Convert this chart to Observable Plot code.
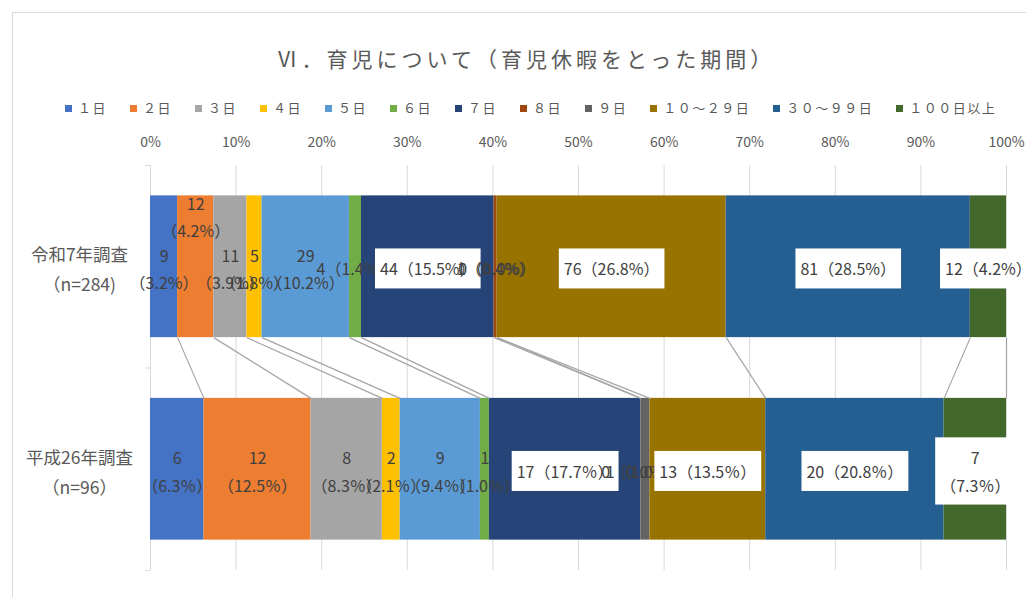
<!DOCTYPE html>
<html><head><meta charset="utf-8">
<script src="https://cdn.jsdelivr.net/npm/d3@7"></script>
<script src="https://cdn.jsdelivr.net/npm/@observablehq/plot@0.6"></script>
<style>
body{margin:0;background:#fff;font-family:"Noto Sans CJK JP",sans-serif;}
#wrap{position:relative;width:1026px;height:597px;overflow:hidden;background:#fff;}
#frame{position:absolute;left:12px;top:12px;width:1100px;height:700px;border:1px solid #d9d9d9;}
#chart{position:absolute;left:0;top:0;}
#title{position:absolute;left:0;width:1052px;top:43px;text-align:center;font-size:21px;letter-spacing:4px;color:#595959;line-height:30px;white-space:nowrap;}
#legend{position:absolute;left:65px;top:99px;display:flex;gap:23px;font-size:13px;color:#595959;letter-spacing:1.5px;line-height:18px;white-space:nowrap;}
.item{display:flex;align-items:center;}
.sw{width:7px;height:7px;margin-right:6px;}
</style></head><body>
<div id="wrap"><div id="frame"></div><div id="chart"></div><div id="title"></div><div id="legend"></div></div>
<script>
const chartTitle = "Ⅵ．育児について（育児休暇をとった期間）";
const seriesNames = ["１日","２日","３日","４日","５日","６日","７日","８日","９日","１０～２９日","３０～９９日","１００日以上"];
const seriesColors = ["#4472C4","#ED7D31","#A5A5A5","#FFC000","#5B9BD5","#70AD47","#264478","#9E480E","#636363","#997300","#255E91","#43682B"];
const surveyLabels = ["令和7年調査\n（n=284)", "平成26年調査\n（n=96）"];
const countsR7 = [9,12,11,5,29,4,44,1,0,76,81,12];
const countsH26 = [6,12,8,2,9,1,17,0,1,13,20,7];
const pctR7 = ["3.2","4.2","3.9","1.8","10.2","1.4","15.5","0.4","0.0","26.8","28.5","4.2"];
const pctH26 = ["6.3","12.5","8.3","2.1","9.4","1.0","17.7","0.0","1.0","13.5","20.8","7.3"];
const pctSign = ["%","％"];
const xTicks = [0,10,20,30,40,50,60,70,80,90,100];
const labelStyleR7 = ["two","raised","two","two","two","one","box","one","one","box","box","box"];
const labelStyleH26 = ["two","two","two","two","two","two","box","one","one","box","box","box2"];

const surveys = [
  {counts: countsR7, pct: pctR7, style: labelStyleR7},
  {counts: countsH26, pct: pctH26, style: labelStyleH26}
];
const pad = 0.15;
const segments = [], labels = [], raised = [], cums = [];
surveys.forEach((s, i) => {
  const total = d3.sum(s.counts);
  let acc = 0;
  const cum = [0];
  s.counts.forEach((c, k) => {
    const x1 = acc / total * 100;
    acc += c;
    const x2 = acc / total * 100;
    cum.push(x2);
    segments.push({series: seriesNames[k], x1, x2, y1: i + pad, y2: i + 1 - pad});
    const st = s.style[k];
    const p = "（" + s.pct[k] + pctSign[i] + "）";
    const two = (st === "two" || st === "raised" || st === "box2");
    const text = two ? c + "\n" + p : c + p;
    const lab = {x: (x1 + x2) / 2, y: i + 0.5, text, boxed: st === "box" || st === "box2"};
    if (st === "raised") raised.push(lab); else labels.push(lab);
  });
  cums.push(cum);
});
const links = d3.range(1, seriesNames.length + 1).map(k => ({x1: cums[0][k], x2: cums[1][k], y1: 1 - pad, y2: 1 + pad}));

document.getElementById("title").textContent = chartTitle;
const legend = document.getElementById("legend");
seriesNames.forEach((n, k) => {
  const it = document.createElement("div"); it.className = "item";
  const sw = document.createElement("div"); sw.className = "sw"; sw.style.background = seriesColors[k];
  const tx = document.createElement("span"); tx.textContent = n;
  it.append(sw, tx); legend.append(it);
});

const plot = Plot.plot({
  width: 1026, height: 597,
  marginLeft: 150, marginRight: 20, marginTop: 165, marginBottom: 27,
  style: {background: "transparent", fontFamily: "'Noto Sans CJK JP', sans-serif", color: "#595959"},
  x: {domain: [0, 100], label: null},
  y: {domain: [0, 2], reverse: true, label: null},
  color: {domain: seriesNames, range: seriesColors},
  marks: [
    Plot.gridX(xTicks, {stroke: "#d9d9d9", strokeOpacity: 1}),
    Plot.ruleX([0], {stroke: "#d9d9d9"}),
    Plot.axisX({anchor: "top", ticks: xTicks, tickFormat: d => d + "%", tickSize: 0, tickPadding: 19, fontSize: 14, fill: "#595959"}),
    Plot.axisY({ticks: [0, 1, 2], tickFormat: () => "", tickSize: 5, stroke: "#d9d9d9"}),
    Plot.axisY({ticks: [0.5, 1.5], tickFormat: d => surveyLabels[Math.floor(d)], tickSize: 0, tickPadding: 71, textAnchor: "middle", fontSize: 17.5, lineHeight: 1.72, fill: "#595959"}),
    Plot.rect(segments, {x1: "x1", x2: "x2", y1: "y1", y2: "y2", fill: "series"}),
    Plot.link(links, {x1: "x1", x2: "x2", y1: "y1", y2: "y2", stroke: "#a5a5a5", strokeWidth: 1.2}),
    Plot.text(raised, {x: "x", y: "y", text: "text", fontSize: 16, lineHeight: 1.7, fill: "#404040", dy: -52}),
    Plot.text(labels, {x: "x", y: "y", text: "text", fontSize: 16, lineHeight: 1.7, fill: "#404040"})
  ]
});
document.getElementById("chart").append(plot);

const textGroups = plot.querySelectorAll('g[aria-label="text"]');
const g = textGroups[textGroups.length - 1];
if (g) {
  Array.from(g.querySelectorAll("text")).forEach((t, j) => {
    if (!labels[j] || !labels[j].boxed) return;
    const b = t.getBBox();
    const r = document.createElementNS("http://www.w3.org/2000/svg", "rect");
    r.setAttribute("x", b.x - 5);
    r.setAttribute("y", b.y - 8);
    r.setAttribute("width", b.width + 10);
    r.setAttribute("height", b.height + 16);
    r.setAttribute("fill", "white");
    const tr = t.getAttribute("transform");
    if (tr) r.setAttribute("transform", tr);
    t.parentNode.insertBefore(r, t);
  });
}
</script>
</body></html>
